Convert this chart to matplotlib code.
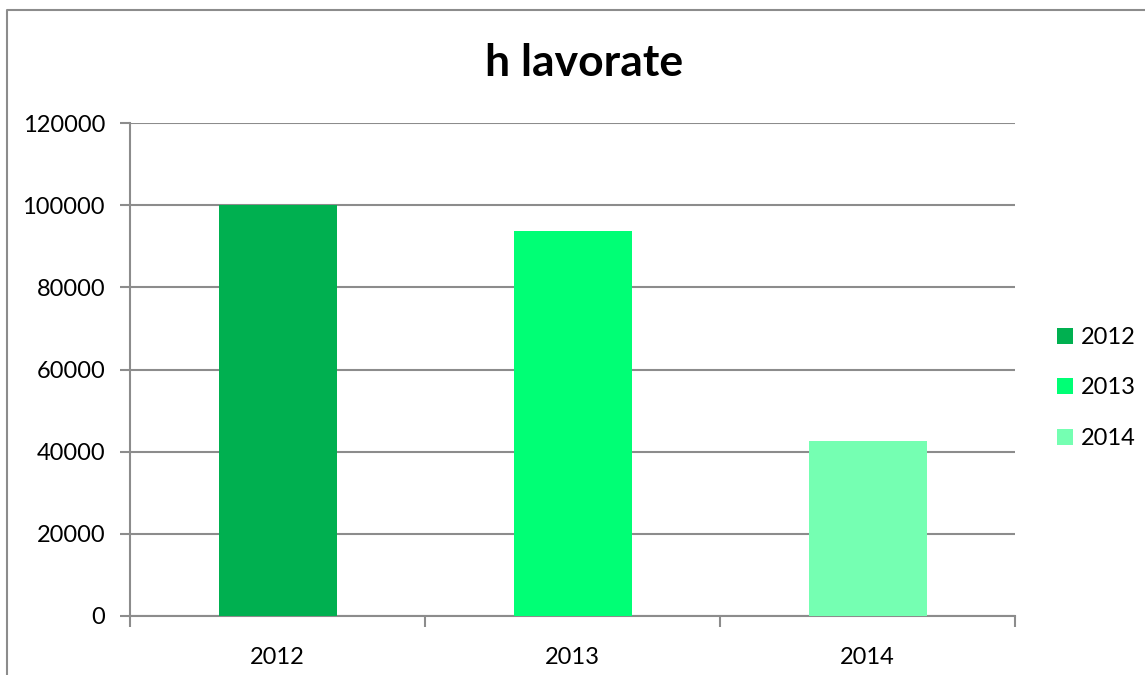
import numpy as np
import matplotlib.pyplot as plt
from matplotlib.lines import Line2D
from matplotlib.patches import Patch

plt.rcParams['font.family'] = ['Lato', 'DejaVu Sans']

# ore lavorate per anno
anni = ['2012', '2013', '2014']
ore = [100000, 93700, 42600]
colori = ['#00B050', '#00FF75', '#75FFB2']

W, H = 1145, 675
fig = plt.figure(figsize=(W / 100, H / 100), dpi=100)
ax = fig.add_axes([130 / W, 1 - 616 / H, (1015 - 130) / W, (616 - 123) / H])

x = np.arange(len(anni))
ax.bar(x, ore, width=0.4, color=colori, zorder=3)

ax.set_xlim(-0.5, len(anni) - 0.5)
ax.set_ylim(0, 120000)
ax.set_yticks(np.arange(0, 120001, 20000))
ax.set_xticks(np.arange(-0.5, len(anni), 1.0))
ax.set_xticklabels([])
ax.set_xticks(x, minor=True)
ax.set_xticklabels(anni, minor=True)

grigio = '#8C8C8C'
ax.grid(axis='y', color=grigio, linewidth=1.5, zorder=0)
for s in ['top', 'right']:
    ax.spines[s].set_visible(False)
for s in ['left', 'bottom']:
    ax.spines[s].set_color(grigio)
    ax.spines[s].set_linewidth(1.5)
ax.tick_params(axis='y', length=7, width=1.5, color=grigio, labelsize=17, pad=11)
ax.tick_params(axis='x', which='major', length=8, width=1.5, color=grigio)
ax.tick_params(axis='x', which='minor', length=0, labelsize=17, pad=22)

fig.text(584 / W, 1 - 63 / H, 'h lavorate', ha='center', va='center',
         fontsize=32, fontweight='bold')

# cornice del grafico
fig.add_artist(Line2D([7 / W, 7 / W, 1.0], [0.0, 1 - 10 / H, 1 - 10 / H],
                      color=grigio, linewidth=1.5, transform=fig.transFigure))

handles = [Patch(facecolor=c, edgecolor='none') for c in colori]
fig.legend(handles, anni, loc='center left', bbox_to_anchor=(1036 / W, 1 - 388 / H),
           frameon=False, fontsize=17, handlelength=0.65, handleheight=0.65,
           handletextpad=0.35, labelspacing=1.25)

fig.savefig('out.png', dpi=100)
